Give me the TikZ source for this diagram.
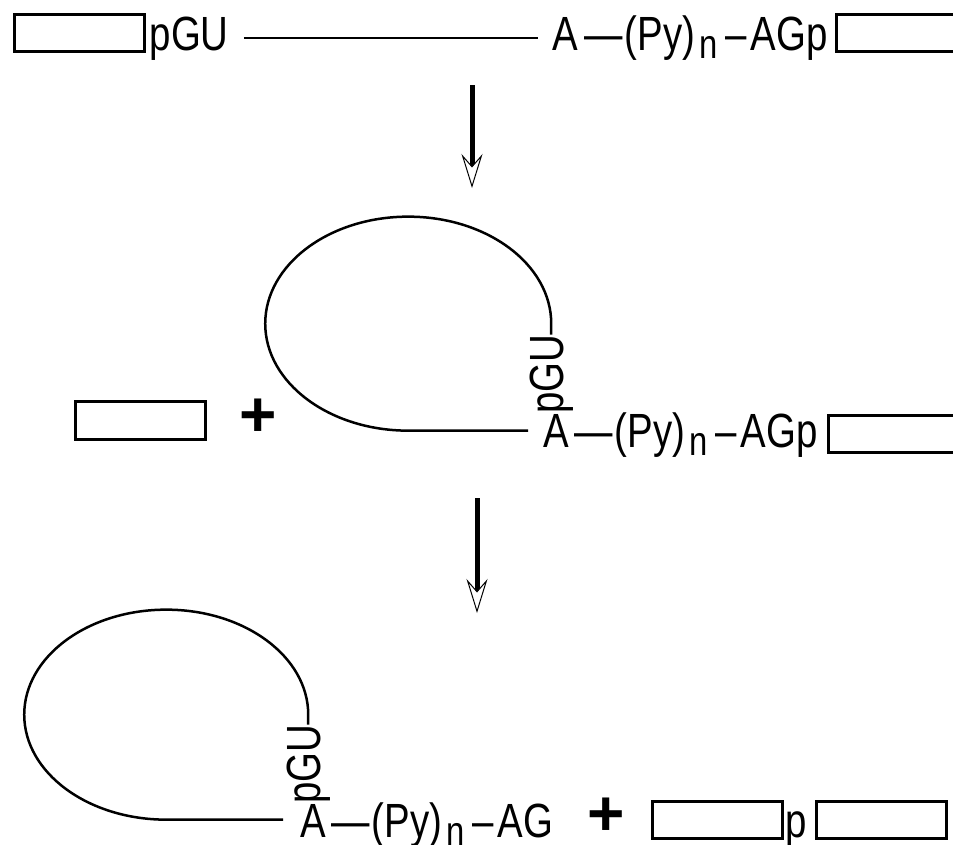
\documentclass[tikz,border=0pt]{standalone}
\usepackage{fontspec}
\usepackage{tikz}
\usetikzlibrary{calc}
\usetikzlibrary{arrows.meta}
\newfontfamily\seqfont[FakeStretch=0.8]{Liberation Sans}
\newfontfamily\plusfont{Liberation Sans}
\newcommand\subn{\raisebox{-8pt}{\fontsize{41}{41}\selectfont n}}
\newcommand\tailtext[1]{—\kern2pt(Py)\kern4pt\subn\kern8pt–\kern4pt #1}

\tikzset{
  exon/.style={draw, line width=3pt, minimum width=130pt, minimum height=37pt, inner sep=0pt},
  seq/.style={font=\seqfont\fontsize{48}{50}\selectfont, inner sep=0pt, anchor=base west},
  strand/.style={line width=2.5pt},
  flow/.style={line width=5pt, -{Stealth[open, fill=white, length=34pt, width=21pt, inset=12pt, line width=1pt]}},
  plus/.style={font=\plusfont\bfseries\fontsize{64}{64}\selectfont, inner sep=0pt}
}

\begin{document}
\begin{tikzpicture}[x=1pt,y=-1pt]
\useasboundingbox (0,0) rectangle (953,844);
\clip (0,0) rectangle (953,844);
\fill [white] (0,0) rectangle (953,844);

\node [exon] (ex1) at (79,32.5) {};
\node [seq] (pgu1) at (149.5,50) {pGU};
\node [seq] (a1) at (552,50) {A};
\node [seq] (tail1) at ([xshift=6pt]a1.base east) {\tailtext{AGp}};
\node [exon, anchor=west, minimum width=200pt] (ex2) at (834.5,32.5) {};
\coordinate (l1) at (pgu1.east -| a1.west);
\draw [strand] ([xshift=15pt]pgu1.east) -- ([xshift=-14pt]l1);

\coordinate (s1) at (472,85);
\coordinate (e1) at (472,188);
\draw [flow] (s1) -- (e1);

\node [exon, minimum height=38pt] (ex3) at (140,420.5) {};
\node [plus] (pl1) at (258,418) {+};
\node [seq] (a2) at (543,447) {A};
\node [seq] (tail2) at ([xshift=5pt]a2.base east) {\tailtext{AGp}};
\node [exon, anchor=west, minimum width=200pt] (ex4) at (826.5,434) {};
\node [seq, rotate=90] (pgu2) at ($(a2.base west)+(20,-33)$) {pGU};
\draw [strand] (pgu2.east) -- ++(0,-11) arc [start angle=0, end angle=-270, x radius=143, y radius=107] -- ++(120,0);

\coordinate (s2) at (477,498);
\coordinate (e2) at (477,613);
\draw [flow] (s2) -- (e2);

\node [seq] (a3) at (300,837) {A};
\node [seq] (tail3) at ([xshift=5pt]a3.base east) {\tailtext{AG}};
\node [seq, rotate=90] (pgu3) at ($(a3.base west)+(20,-33)$) {pGU};
\draw [strand] (pgu3.east) -- ++(0,-10) arc [start angle=0, end angle=-270, x radius=142, y radius=105] -- ++(117,0);
\node [plus] (pl2) at (606,817) {+};
\node [exon] (ex5) at (717,820) {};
\node [exon] (ex6) at (881,820) {};
\node [seq] (p3) at (785,837) {p};
\end{tikzpicture}
\end{document}
